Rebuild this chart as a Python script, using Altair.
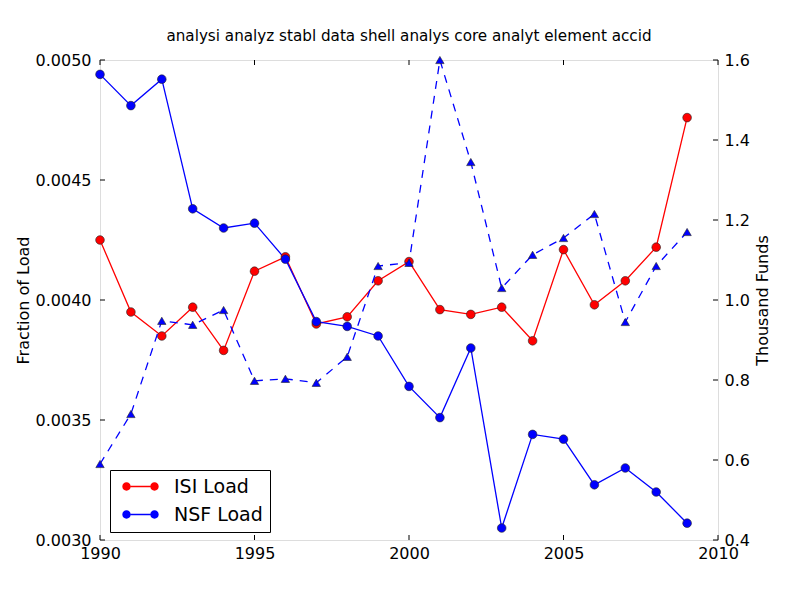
import altair as alt
import pandas as pd

years = list(range(1990, 2010))
isi_load = [0.00425, 0.00395, 0.00385, 0.00397, 0.00379, 0.00412, 0.00418, 0.00390,
            0.00393, 0.00408, 0.00416, 0.00396, 0.00394, 0.00397, 0.00383, 0.00421,
            0.00398, 0.00408, 0.00422, 0.00476]
nsf_load = [0.00494, 0.00481, 0.00492, 0.00438, 0.00430, 0.00432, 0.00417, 0.00391,
            0.00389, 0.00385, 0.00364, 0.00351, 0.00380, 0.00305, 0.00344, 0.00342,
            0.00323, 0.00330, 0.00320, 0.00307]
thousand_funds = [0.59, 0.715, 0.948, 0.938, 0.975, 0.798, 0.803, 0.793,
                  0.858, 1.085, 1.093, 1.60, 1.345, 1.03, 1.113, 1.155,
                  1.215, 0.945, 1.085, 1.17]

x_ticks = [1990, 1995, 2000, 2005, 2010]
left_ticks = [0.0030, 0.0035, 0.0040, 0.0045, 0.0050]
right_ticks = [0.4, 0.6, 0.8, 1.0, 1.2, 1.4, 1.6]

series_names = ["ISI Load", "NSF Load"]
series_colors = ["#ff0000", "#0000ff"]

df_left = pd.DataFrame({
    "year": years * 2,
    "value": isi_load + nsf_load,
    "series": ["ISI Load"] * len(years) + ["NSF Load"] * len(years),
})
df_right = pd.DataFrame({"year": years, "funds": thousand_funds})
df_xt = pd.DataFrame({"t": x_ticks})
df_lt = pd.DataFrame({"t": left_ticks})
df_rt = pd.DataFrame({"t": right_ticks})

W, H = 618, 480
FONT = "DejaVu Sans"

x_scale = alt.Scale(domain=[1990, 2010], nice=False, zero=False)
x_axis = alt.Axis(values=x_ticks, format="d", title=None, tickSize=0, domain=False,
                  grid=False, labelPadding=5, labelFontSize=16, labelColor="black",
                  labelFont=FONT, labelFlush=False)
yl_scale = alt.Scale(domain=[0.0030, 0.0050], nice=False, zero=False)
yl_axis = alt.Axis(values=left_ticks, format=".4f", title="Fraction of Load", orient="left",
                   tickSize=0, domain=False, grid=False, labelPadding=9, labelFontSize=16,
                   titleFontSize=16, titleFontWeight="normal", titlePadding=4,
                   labelColor="black", titleColor="black", labelFont=FONT, titleFont=FONT,
                   labelFlush=False)
yr_scale = alt.Scale(domain=[0.4, 1.6], nice=False, zero=False)
yr_axis = alt.Axis(values=right_ticks, format=".1f", title="Thousand Funds", orient="right",
                   tickSize=0, domain=False, grid=False, labelPadding=6, labelFontSize=16,
                   titleFontSize=16, titleFontWeight="normal", titleAngle=270,
                   titleX=52, titleY=H / 2, titleBaseline="bottom", titleAlign="center",
                   labelColor="black", titleColor="black", labelFont=FONT, titleFont=FONT,
                   labelFlush=False)

color_scale = alt.Scale(domain=series_names, range=series_colors)

# legend symbol: line with a circle marker at each end (coords in symbol units)
c = 2.0
r = 0.6
h = 0.1
sym = (f"M {-c + r},0 A {r},{r} 0 1,0 {-c - r},0 A {r},{r} 0 1,0 {-c + r},0 Z "
       f"M {c + r},0 A {r},{r} 0 1,0 {c - r},0 A {r},{r} 0 1,0 {c + r},0 Z "
       f"M {-c + r},{-h} L {c - r},{-h} L {c - r},{h} L {-c + r},{h} Z")

isi_line = alt.Chart(df_left).transform_filter(
    alt.datum.series == "ISI Load"
).mark_line(strokeWidth=1.3, color=series_colors[0]).encode(
    x=alt.X("year:Q", scale=x_scale, axis=x_axis),
    y=alt.Y("value:Q", scale=yl_scale, axis=yl_axis),
)
nsf_line = alt.Chart(df_left).transform_filter(
    alt.datum.series == "NSF Load"
).mark_line(strokeWidth=1.3, color=series_colors[1]).encode(
    x=alt.X("year:Q", scale=x_scale, axis=x_axis),
    y=alt.Y("value:Q", scale=yl_scale, axis=yl_axis),
)
left_points = alt.Chart(df_left).mark_point(
    filled=True, shape="circle", size=75, stroke="#222222", strokeWidth=0.6, opacity=1
).encode(
    x=alt.X("year:Q", scale=x_scale, axis=x_axis),
    y=alt.Y("value:Q", scale=yl_scale, axis=yl_axis),
    fill=alt.Fill("series:N", scale=color_scale, legend=alt.Legend(
        title=None, orient="none", legendX=10, legendY=410,
        symbolType=sym, symbolSize=196, symbolStrokeWidth=0,
        labelFontSize=19, labelFont=FONT, labelColor="black", labelOffset=24,
        rowPadding=8, padding=7, strokeColor="black", fillColor="white",
        cornerRadius=0, symbolOffset=14)),
)
xt_bottom = alt.Chart(df_xt).mark_rule(color="black", strokeWidth=1).encode(
    x=alt.X("t:Q", scale=x_scale, axis=x_axis), y=alt.value(H), y2=alt.value(H - 5))
xt_top = alt.Chart(df_xt).mark_rule(color="black", strokeWidth=1).encode(
    x=alt.X("t:Q", scale=x_scale, axis=x_axis), y=alt.value(0), y2=alt.value(5))
lt = alt.Chart(df_lt).mark_rule(color="black", strokeWidth=1).encode(
    y=alt.Y("t:Q", scale=yl_scale, axis=yl_axis), x=alt.value(0), x2=alt.value(5))

right_line = alt.Chart(df_right).mark_line(
    color="#0000ff", strokeWidth=1.3, strokeDash=[8, 7]
).encode(
    x=alt.X("year:Q", scale=x_scale, axis=x_axis),
    y=alt.Y("funds:Q", scale=yr_scale, axis=yr_axis),
)
right_points = alt.Chart(df_right).mark_point(
    filled=True, shape="triangle-up", size=70, fill="#0000ff", stroke="#222222",
    strokeWidth=0.6, opacity=1
).encode(
    x=alt.X("year:Q", scale=x_scale, axis=x_axis),
    y=alt.Y("funds:Q", scale=yr_scale, axis=yr_axis),
)
rt = alt.Chart(df_rt).mark_rule(color="black", strokeWidth=1).encode(
    y=alt.Y("t:Q", scale=yr_scale, axis=yr_axis), x=alt.value(W), x2=alt.value(W - 5))

left_group = alt.layer(lt, xt_bottom, xt_top, isi_line, nsf_line, left_points)
right_group = alt.layer(rt, right_line, right_points)

chart = alt.layer(left_group, right_group).resolve_scale(
    y="independent"
).properties(
    width=W, height=H,
    title=alt.TitleParams(
        "analysi analyz stabl data shell analys core analyt element accid",
        fontSize=15.2, font=FONT, fontWeight="normal", color="black", offset=8, anchor="middle"),
    autosize=alt.AutoSizeParams(type="none"),
    padding={"left": 92, "top": 52, "right": 74, "bottom": 52},
).configure_view(
    stroke="black", strokeWidth=1
).configure(
    font=FONT, background="white"
)

chart.save("out.html", embed_options={"renderer": "svg", "actions": False})
